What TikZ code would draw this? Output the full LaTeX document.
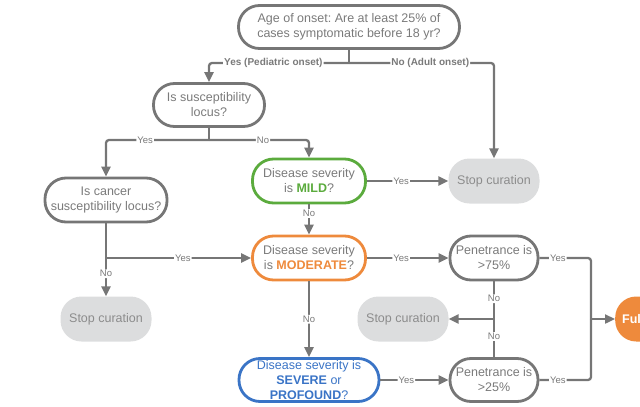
\documentclass[tikz,border=0pt]{standalone}
\usepackage{fontspec}
\setmainfont{Liberation Sans}
\usepackage{tikz}
\usetikzlibrary{arrows.meta}
\frenchspacing

\definecolor{linegray}{HTML}{767676}
\definecolor{txtgray}{HTML}{7A7A7A}
\definecolor{stopfill}{HTML}{DCDDDE}
\definecolor{stoptext}{HTML}{8C8C8C}
\definecolor{mildgreen}{HTML}{5BAB3D}
\definecolor{modorange}{HTML}{EE8A3C}
\definecolor{sevblue}{HTML}{3A74C6}

\begin{document}
\begin{tikzpicture}[x=1pt,y=-1pt,
	box/.style={draw=linegray,line width=2.8pt,rounded corners=21pt,align=center,
		text=txtgray,font=\fontsize{12.5}{15}\selectfont,inner sep=0pt},
	stopbox/.style={fill=stopfill,rounded corners=21pt,align=center,text=stoptext,
		font=\fontsize{12.5}{15}\selectfont,minimum width=91pt,minimum height=45pt},
	conn/.style={draw=linegray,line width=2.3pt,rounded corners=3pt},
	arr/.style={conn,-{Triangle[length=10pt,width=9pt]}},
	lbl/.style={fill=white,inner sep=1pt,text=txtgray,font=\fontsize{9.5}{10}\selectfont},
	blbl/.style={lbl,font=\fontsize{10}{11}\selectfont\bfseries}]

	\useasboundingbox (0,0) rectangle (640,407);
	\clip (0,0) rectangle (640,407);

	% questions
	\node[box,minimum width=221pt,minimum height=43pt] (onset) at (349,27)
		{Age of onset: Are at least 25\% of\\cases symptomatic before 18 yr?};
	\node[box,minimum width=111pt,minimum height=43pt] (locus) at (209,105)
		{Is susceptibility\\locus?};
	\node[box,minimum width=122pt,minimum height=44pt] (cancer) at (106,200)
		{Is cancer\\susceptibility locus?};
	\node[box,draw=mildgreen,minimum width=113pt,minimum height=44pt] (mild) at (309,181)
		{Disease severity\\is \textcolor{mildgreen}{\textbf{MILD}}?};
	\node[box,draw=modorange,minimum width=113pt,minimum height=44pt] (moderate) at (309,258)
		{Disease severity\\is \textcolor{modorange}{\textbf{MODERATE}}?};
	\node[box,draw=sevblue,text=sevblue,minimum width=140pt,minimum height=43pt] (severe) at (309,380)
		{Disease severity is\\\textbf{SEVERE} or\\\textbf{PROFOUND}?};
	\node[box,minimum width=88pt,minimum height=44pt] (pen75) at (494,258)
		{Penetrance is\\>75\%};
	\node[box,minimum width=88pt,minimum height=43pt] (pen25) at (494,380)
		{Penetrance is\\>25\%};

	% outcomes
	\node[stopbox] (stopA) at (494,181) {Stop curation};
	\node[stopbox] (stopB) at (106,319) {Stop curation};
	\node[stopbox] (stopC) at (403,319) {Stop curation};
	\node[fill=modorange,rounded corners=21pt,anchor=west,minimum height=45pt,
		text width=70pt,inner xsep=7pt,text=white,
		font=\fontsize{12.5}{15}\selectfont\bfseries] (full) at (615,319) {Full};

	% junctions
	\coordinate (j1) at (349,63);
	\coordinate (j2) at (209,140);
	\coordinate (j3) at (106,258);
	\coordinate (j4) at (494,319);
	\coordinate (j5) at (591,319);

	\draw[conn] (onset) -- (j1);
	\draw[arr] (j1) -| node[blbl,pos=0.27]{Yes (Pediatric onset)} (locus);
	\draw[arr] (j1) -| node[blbl,pos=0.28]{No (Adult onset)} (stopA);

	\draw[conn] (locus) -- (j2);
	\draw[arr] (j2) -| node[lbl,pos=0.31]{Yes} (cancer);
	\draw[arr] (j2) -| node[lbl,pos=0.27]{No} (mild);

	\draw[arr] (mild) -- node[lbl,pos=0.42]{Yes} (stopA);
	\draw[arr] (mild) -- node[lbl,pos=0.3]{No} (moderate);

	\draw[conn] (cancer) -- (j3);
	\draw[arr] (j3) -- node[lbl,pos=0.53]{Yes} (moderate);
	\draw[arr] (j3) -- node[lbl,pos=0.41]{No} (stopB);

	\draw[arr] (moderate) -- node[lbl,pos=0.42]{Yes} (pen75);
	\draw[arr] (moderate) -- node[lbl]{No} (severe);

	\draw[conn] (pen75) -- node[lbl,pos=0.46]{No} (j4);
	\draw[conn] (pen25) -- node[lbl,pos=0.54]{No} (j4);
	\draw[arr] (j4) -- (stopC);

	\draw[arr] (severe) -- node[lbl,pos=0.38]{Yes} (pen25);

	\draw[conn] (pen75) -| node[lbl,pos=0.18]{Yes} (j5);
	\draw[conn] (pen25) -| node[lbl,pos=0.18]{Yes} (j5);
	\draw[arr] (j5) -- (full);

\end{tikzpicture}
\end{document}
